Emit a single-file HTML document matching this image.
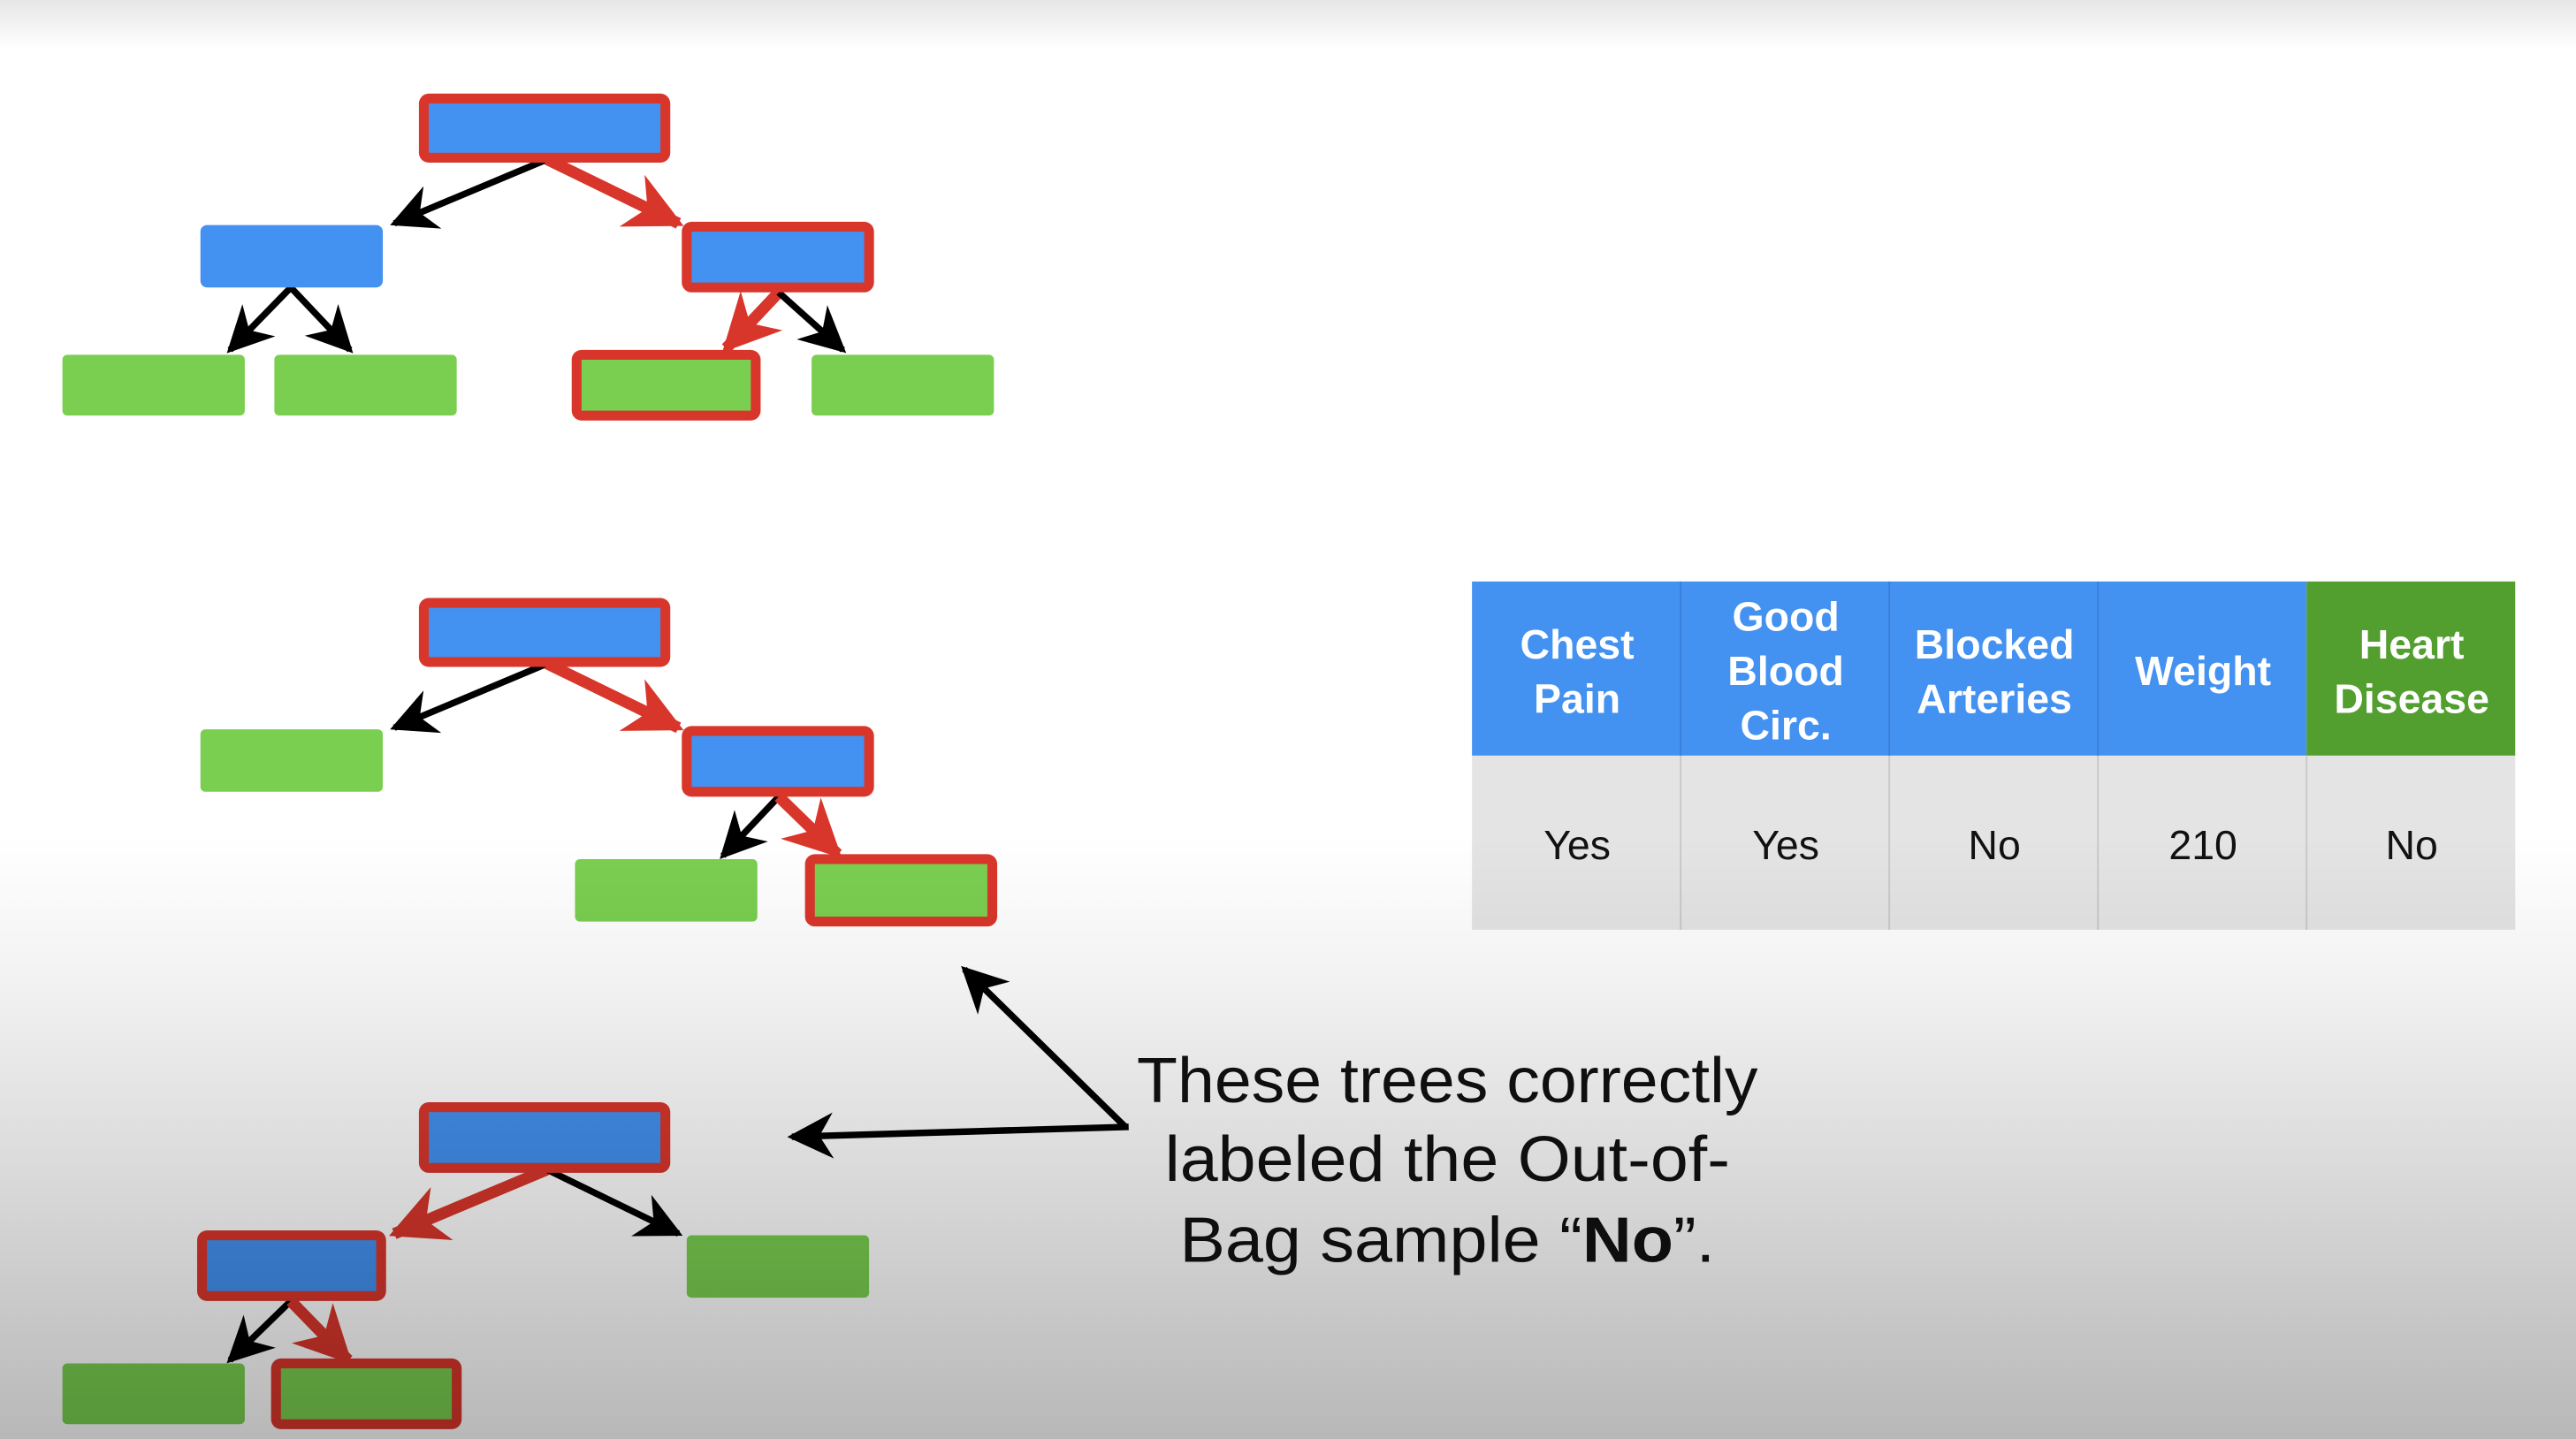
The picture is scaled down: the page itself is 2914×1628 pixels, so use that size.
<!DOCTYPE html>
<html><head><meta charset="utf-8"><style>
html,body{margin:0;padding:0;width:2914px;height:1628px;overflow:hidden;background:#fff}
svg{display:block}
text{font-family:"Liberation Sans",Arial,sans-serif}
</style></head><body>
<svg width="2914" height="1628" viewBox="0 0 1568 876" preserveAspectRatio="none" xmlns="http://www.w3.org/2000/svg">
<defs>
<linearGradient id="top" x1="0" y1="0" x2="0" y2="1"><stop offset="0" stop-color="#e6e6e6"/><stop offset="1" stop-color="#ffffff"/></linearGradient>
<linearGradient id="shade" x1="0" y1="0" x2="0" y2="1">
<stop offset="0" stop-color="#000" stop-opacity="0"/>
<stop offset="0.58" stop-color="#000" stop-opacity="0"/>
<stop offset="0.68" stop-color="#000" stop-opacity="0.05"/>
<stop offset="1" stop-color="#000" stop-opacity="0.28"/>
</linearGradient>
<marker id="ab" viewBox="0 0 10 10" refX="9" refY="5" markerWidth="7" markerHeight="7" orient="auto" markerUnits="strokeWidth"><path d="M0,0 L10,5 L0,10 L3,5 Z" fill="#000"/></marker>
<marker id="ar" viewBox="0 0 10 10" refX="9" refY="5" markerWidth="5" markerHeight="5" orient="auto" markerUnits="strokeWidth"><path d="M0,0 L10,5 L0,10 L3,5 Z" fill="#d9362b"/></marker>
</defs>
<rect x="0" y="0" width="1568" height="876" fill="#fff"/>
<rect x="0" y="0" width="1568" height="30" fill="url(#top)"/>

<g stroke-linecap="butt">
<line x1="333" y1="97" x2="240" y2="136" stroke="#000" stroke-width="4" marker-end="url(#ab)"/>
<line x1="333" y1="97" x2="413" y2="136" stroke="#d9362b" stroke-width="7" marker-end="url(#ar)"/>
<line x1="177" y1="175" x2="140" y2="213" stroke="#000" stroke-width="4" marker-end="url(#ab)"/>
<line x1="177" y1="175" x2="213" y2="213" stroke="#000" stroke-width="4" marker-end="url(#ab)"/>
<line x1="474" y1="178" x2="442" y2="212" stroke="#d9362b" stroke-width="7" marker-end="url(#ar)"/>
<line x1="474" y1="178" x2="513" y2="213" stroke="#000" stroke-width="4" marker-end="url(#ab)"/>
<rect x="255" y="57" width="153" height="42" rx="6" fill="#d9362b"/><rect x="261" y="63" width="141" height="30" fill="#4391f0"/>
<rect x="122" y="137" width="111" height="38" rx="4" fill="#4391f0"/>
<rect x="415" y="135" width="117" height="43" rx="6" fill="#d9362b"/><rect x="421" y="141" width="105" height="31" fill="#4391f0"/>
<rect x="38" y="216" width="111" height="37" rx="3" fill="#7acf50"/>
<rect x="167" y="216" width="111" height="37" rx="3" fill="#7acf50"/>
<rect x="348" y="213" width="115" height="43" rx="6" fill="#d9362b"/><rect x="354" y="219" width="103" height="31" fill="#7acf50"/>
<rect x="494" y="216" width="111" height="37" rx="3" fill="#7acf50"/>
</g>

<g>
<line x1="333" y1="404" x2="240" y2="443" stroke="#000" stroke-width="4" marker-end="url(#ab)"/>
<line x1="333" y1="404" x2="413" y2="443" stroke="#d9362b" stroke-width="7" marker-end="url(#ar)"/>
<line x1="474" y1="485" x2="440" y2="521" stroke="#000" stroke-width="4" marker-end="url(#ab)"/>
<line x1="474" y1="485" x2="510" y2="520" stroke="#d9362b" stroke-width="7" marker-end="url(#ar)"/>
<rect x="255" y="364" width="153" height="42" rx="6" fill="#d9362b"/><rect x="261" y="370" width="141" height="30" fill="#4391f0"/>
<rect x="122" y="444" width="111" height="38" rx="3" fill="#7acf50"/>
<rect x="415" y="442" width="117" height="43" rx="6" fill="#d9362b"/><rect x="421" y="448" width="105" height="31" fill="#4391f0"/>
<rect x="350" y="523" width="111" height="38" rx="3" fill="#7acf50"/>
<rect x="490" y="520" width="117" height="44" rx="6" fill="#d9362b"/><rect x="496" y="526" width="105" height="32" fill="#7acf50"/>
</g>

<g>
<line x1="333" y1="712" x2="240" y2="751" stroke="#d9362b" stroke-width="7" marker-end="url(#ar)"/>
<line x1="333" y1="712" x2="413" y2="751" stroke="#000" stroke-width="4" marker-end="url(#ab)"/>
<line x1="177" y1="792" x2="140" y2="828" stroke="#000" stroke-width="4" marker-end="url(#ab)"/>
<line x1="177" y1="792" x2="212" y2="828" stroke="#d9362b" stroke-width="7" marker-end="url(#ar)"/>
<rect x="255" y="671" width="153" height="43" rx="6" fill="#d9362b"/><rect x="261" y="677" width="141" height="31" fill="#4391f0"/>
<rect x="120" y="749" width="115" height="43" rx="6" fill="#d9362b"/><rect x="126" y="755" width="103" height="31" fill="#4391f0"/>
<rect x="418" y="752" width="111" height="38" rx="3" fill="#7acf50"/>
<rect x="38" y="830" width="111" height="37" rx="3" fill="#7acf50"/>
<rect x="165" y="827" width="116" height="43" rx="6" fill="#d9362b"/><rect x="171" y="833" width="104" height="31" fill="#7acf50"/>
</g>

<g>
<line x1="685" y1="686" x2="587" y2="590" stroke="#000" stroke-width="4" marker-end="url(#ab)"/>
<line x1="687" y1="686" x2="482" y2="692" stroke="#000" stroke-width="4" marker-end="url(#ab)"/>
</g>
<g font-size="39" fill="#111" text-anchor="middle">
<text x="881" y="671" textLength="378" lengthAdjust="spacingAndGlyphs">These trees correctly</text>
<text x="881" y="719" textLength="344" lengthAdjust="spacingAndGlyphs">labeled the Out-of-</text>
<text x="881" y="768" textLength="326" lengthAdjust="spacingAndGlyphs">Bag sample “<tspan font-weight="bold">No</tspan>”.</text>
</g>

<g>
<rect x="896" y="354" width="508" height="106" fill="#4391f0"/>
<rect x="1404" y="354" width="127" height="106" fill="#529e2f"/>
<rect x="896" y="460" width="635" height="106" fill="#e4e4e4"/>
<g stroke="#c8c8c8" stroke-width="1">
<line x1="1023" y1="460" x2="1023" y2="566"/><line x1="1150" y1="460" x2="1150" y2="566"/>
<line x1="1277" y1="460" x2="1277" y2="566"/><line x1="1404" y1="460" x2="1404" y2="566"/>
</g>
<g stroke="#3a80dc" stroke-width="1">
<line x1="1023" y1="354" x2="1023" y2="460"/><line x1="1150" y1="354" x2="1150" y2="460"/><line x1="1277" y1="354" x2="1277" y2="460"/>
</g>
<g font-size="25" font-weight="bold" fill="#fff" text-anchor="middle">
<text x="960" y="401">Chest</text><text x="960" y="434">Pain</text>
<text x="1087" y="384">Good</text><text x="1087" y="417">Blood</text><text x="1087" y="450">Circ.</text>
<text x="1214" y="401">Blocked</text><text x="1214" y="434">Arteries</text>
<text x="1341" y="417">Weight</text>
<text x="1468" y="401">Heart</text><text x="1468" y="434">Disease</text>
</g>
<g font-size="25" fill="#111" text-anchor="middle">
<text x="960" y="523">Yes</text><text x="1087" y="523">Yes</text><text x="1214" y="523">No</text><text x="1341" y="523">210</text><text x="1468" y="523">No</text>
</g>
</g>

<rect x="0" y="0" width="1568" height="876" fill="url(#shade)" pointer-events="none"/>
</svg>
</body></html>
